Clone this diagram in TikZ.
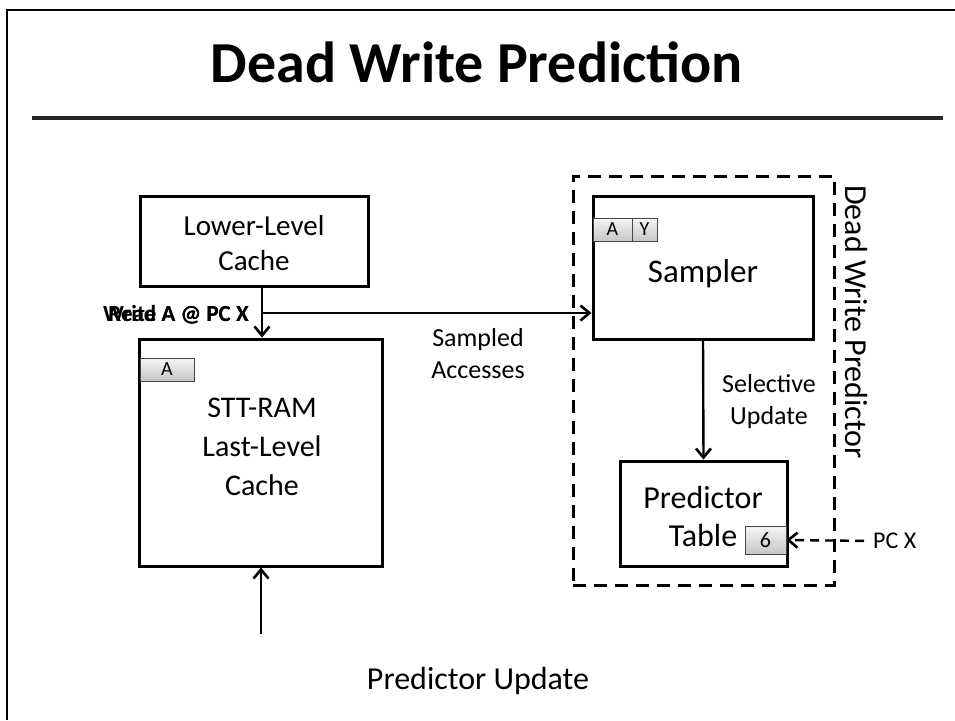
\documentclass[tikz,border=0pt]{standalone}
\usepackage{fontspec}
\setmainfont{Carlito}
\usetikzlibrary{arrows.meta}
\tikzset{
  boxnode/.style={draw=black, line width=3pt, rectangle, inner sep=0pt},
  tagnode/.style={draw=gray!55!black, line width=0.8pt, top color=gray!8, bottom color=gray!45, rectangle, inner sep=0pt, font=\fontsize{20}{22}\selectfont},
  txt/.style={align=center, inner sep=0pt},
  tip/.style={-{Straight Barb[length=9pt,width=15pt,line width=2.6pt]}},
  arr/.style={line width=2.4pt, tip},
  darr/.style={line width=2.4pt, dash pattern=on 9pt off 6pt, tip},
}
\begin{document}
\begin{tikzpicture}[x=1pt,y=-1pt]
\useasboundingbox (0,0) rectangle (955,720);
% frame
\draw[line width=2.5pt] (7,720) -- (7,10) -- (955,10);
% title
\node[txt, font=\fontsize{58}{62}\selectfont\bfseries] (title) at (477,62) {Dead Write Prediction};
\draw[line width=4pt, black!85] (32,118) -- (943,118);
% boxes
\node[boxnode, minimum width=228pt, minimum height=90pt] (lower) at (254,241) {};
\node[txt, font=\fontsize{29}{35}\selectfont] (lowert) at (254,243) {Lower-Level\\Cache};
\node[boxnode, minimum width=243pt, minimum height=227pt] (stt) at (260.5,452.5) {};
\node[txt, font=\fontsize{30}{39}\selectfont] (sttt) at (262,447) {STT-RAM\\Last-Level\\Cache};
\node[tagnode, minimum width=54pt, minimum height=23pt] (tagA) at (167,369.5) {A};
% dashed predictor region
\node[draw, line width=3pt, dash pattern=on 13pt off 8pt, minimum width=261pt, minimum height=409pt, inner sep=0pt] (dwp) at (703.5,380.5) {};
\node[txt, rotate=-90, font=\fontsize{32}{36}\selectfont] (dwpt) at (856,322) {Dead Write Predictor};
\node[boxnode, minimum width=220pt, minimum height=143pt] (sampler) at (703,267.5) {};
\node[txt, font=\fontsize{33}{38}\selectfont] (samplert) at (703,274) {Sampler};
\node[tagnode, minimum width=39pt, minimum height=23pt] (tagSA) at (612.5,229.5) {A};
\node[tagnode, minimum width=25pt, minimum height=23pt] (tagSY) at (644.5,229.5) {Y};
\node[boxnode, minimum width=167pt, minimum height=105pt] (ptable) at (703.5,513.5) {};
\node[txt, font=\fontsize{32}{38}\selectfont] (ptablet) at (703,516) {Predictor\\Table};
\node[tagnode, minimum width=41pt, minimum height=28pt, font=\fontsize{22}{24}\selectfont] (tag6) at (765.5,540) {6};
% labels
\node[txt, anchor=east, font=\fontsize{23}{26}\selectfont\bfseries] (wlab) at (249,315) {Write A @ PC X};
\node[txt, anchor=east, font=\fontsize{23}{26}\selectfont\bfseries] (rlab) at (249,315) {Read A @ PC X};
\node[txt, font=\fontsize{26}{32}\selectfont] (samp) at (478,354) {Sampled\\Accesses};
\node[txt, font=\fontsize{26}{32}\selectfont] (sel) at (769,402) {Selective\\Update};
\node[txt, anchor=west, font=\fontsize{24}{26}\selectfont] (pcx) at (873,541) {PC X};
\node[txt, font=\fontsize{32}{36}\selectfont] (pu) at (478,681) {Predictor Update};
% connectors
\coordinate (junc) at (262,313);
\coordinate (pustart) at (261,634);
\draw[arr] (lower.south -| junc) -- (stt.north -| junc);
\draw[arr] (junc) -- (junc -| sampler.west);
\draw[arr] (sampler.south) -- (ptable.north);
\draw[darr, shorten <=9pt] (pcx.west) -- (tag6.east);
\draw[arr] (pustart) -- (pustart |- stt.south);
\end{tikzpicture}
\end{document}
